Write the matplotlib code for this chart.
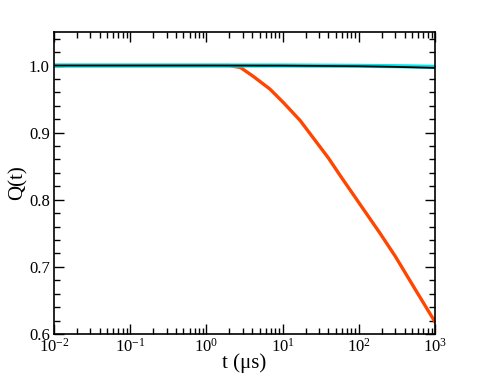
import numpy as np
import matplotlib
matplotlib.use("Agg")
import matplotlib.pyplot as plt
from matplotlib.ticker import LogLocator, MultipleLocator, FormatStrFormatter

plt.rcParams['font.family'] = ['Liberation Serif', 'DejaVu Serif']
plt.rcParams['mathtext.fontset'] = 'custom'
plt.rcParams['mathtext.rm'] = 'Liberation Serif'
plt.rcParams['mathtext.it'] = 'Liberation Serif:italic'

# orange curve (decaying)
t_orange = [0.01, 1.0, 2.0, 2.8, 4.1, 6.8, 10.2, 17, 40, 57, 104, 190, 300, 560, 1000]
q_orange = [1.0, 1.0, 1.0, 0.997, 0.984, 0.965, 0.945, 0.918, 0.862, 0.836, 0.793, 0.750, 0.716, 0.665, 0.618]

# cyan curve (nearly flat)
t_cyan = [0.01, 1.0, 10, 100, 300, 1000]
q_cyan = [1.0, 1.0, 1.0, 0.9995, 0.999, 0.998]

# black curve (nearly flat)
t_black = [0.01, 1.0, 10, 100, 300, 1000]
q_black = [1.0, 1.0, 0.9998, 0.999, 0.998, 0.9965]

fig = plt.figure(figsize=(4.91, 3.79), dpi=100)
ax = fig.add_axes([0.110, 0.1187, 0.776, 0.797])

ax.plot(t_orange, q_orange, color='#ff4500', lw=2.4)
ax.plot(t_cyan, q_cyan, color='#00e5ee', lw=3.0)
ax.plot(t_black, q_black, color='black', lw=1.3)

ax.set_xscale('log')
ax.set_xlim(0.01, 1000)
ax.set_ylim(0.6, 1.05)

ax.xaxis.set_major_locator(LogLocator(base=10, numticks=10))
ax.xaxis.set_minor_locator(LogLocator(base=10, subs=np.arange(2, 10), numticks=20))
ax.yaxis.set_major_locator(MultipleLocator(0.1))
ax.yaxis.set_minor_locator(MultipleLocator(0.02))
ax.yaxis.set_major_formatter(FormatStrFormatter('%.1f'))

ax.tick_params(which='both', direction='in', top=True, right=True, labelsize=12, width=1)
ax.tick_params(which='major', length=7, pad=3)
ax.tick_params(which='minor', length=4)
for s in ax.spines.values():
    s.set_linewidth(1.2)

ax.set_xlabel('t (μs)', fontsize=15, labelpad=-2)
ax.set_ylabel('Q(t)', fontsize=15, labelpad=1)

fig.savefig('out.png', dpi=100)
